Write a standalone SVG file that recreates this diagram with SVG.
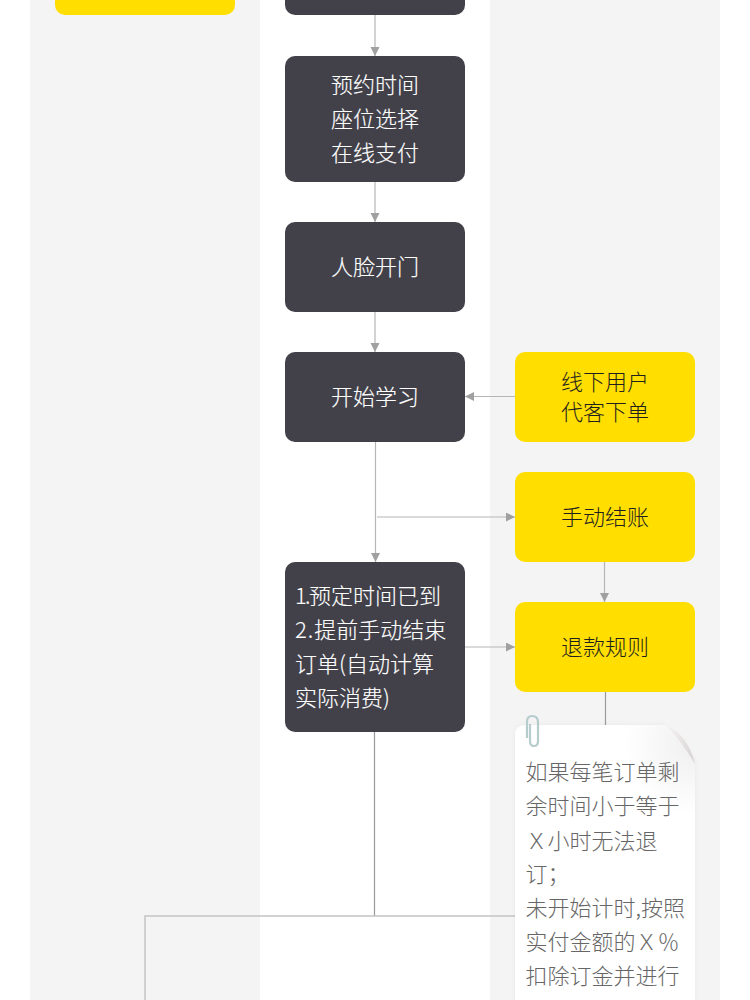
<svg xmlns="http://www.w3.org/2000/svg" width="750" height="1000" viewBox="0 0 750 1000">
<style>
text{font-family:"Noto Sans CJK SC","Liberation Sans",sans-serif;font-size:22px;font-weight:300;text-anchor:middle}
.d{fill:#42414a}.y{fill:#ffde00}
.dt{fill:#fff;stroke:#fff;stroke-width:.15}.yt{fill:#1f1f1f}
.l{text-anchor:start}
.c{fill:none;stroke:#b5b5b5;stroke-width:1.2}
.n{fill:#666;text-anchor:start}
</style>
<defs>
<marker id="a" markerUnits="userSpaceOnUse" markerWidth="10" markerHeight="10" refX="9" refY="4.5" orient="auto"><path d="M0 0L9 4.500L0 9Z" fill="#a0a0a0"/></marker>
<radialGradient id="note" gradientUnits="userSpaceOnUse" cx="695" cy="745" r="70"><stop offset="0" stop-color="#efefef"/><stop offset="1" stop-color="#fff"/></radialGradient>
<linearGradient id="fold" x1="0" y1="0" x2="1" y2="1"><stop offset="0" stop-color="#f6f3f3"/><stop offset="1" stop-color="#d6d0d1"/></linearGradient>
<filter id="sh" x="-10%" y="-10%" width="120%" height="120%"><feGaussianBlur stdDeviation="2.500"/></filter>
</defs>
<rect width="750" height="1000" fill="#fff"/>
<g id="lanes">
<rect x="30" y="0" width="230" height="1000" fill="#f4f4f4"/>
<rect x="490" y="0" width="230" height="1000" fill="#f4f4f4"/>
</g>
<g id="connectors">
<path class="c" d="M375 15V56" marker-end="url(#a)"/>
<path class="c" d="M375 182V222" marker-end="url(#a)"/>
<path class="c" d="M375 312V352" marker-end="url(#a)"/>
<path class="c" d="M515 396.500H465" marker-end="url(#a)"/>
<path class="c" d="M375.500 442V562" marker-end="url(#a)"/>
<path class="c" d="M377 517H515" marker-end="url(#a)"/>
<path class="c" d="M604.500 562V602" marker-end="url(#a)"/>
<path class="c" d="M465 647H515" marker-end="url(#a)"/>
<path class="c" d="M605.500 692V730" style="stroke:#9a9a9a"/>
<path class="c" d="M374.500 732V916" style="stroke:#9a9a9a"/>
<path class="c" d="M145 1000V916H520" style="stroke:#c4c4c4;stroke-width:1.500"/>
</g>
<g id="node-top-left"><rect class="y" x="55" y="-60" width="180" height="75" rx="10"/></g>
<g id="node-top"><rect class="d" x="285" y="-60" width="180" height="75" rx="10"/></g>
<g id="node-booking"><rect class="d" x="285" y="56" width="180" height="126" rx="10"/>
<text class="dt" x="375" y="93">预约时间</text><text class="dt" x="375" y="127">座位选择</text><text class="dt" x="375" y="161">在线支付</text></g>
<g id="node-face"><rect class="d" x="285" y="222" width="180" height="90" rx="10"/>
<text class="dt" x="375" y="275">人脸开门</text></g>
<g id="node-start"><rect class="d" x="285" y="352" width="180" height="90" rx="10"/>
<text class="dt" x="375" y="405">开始学习</text></g>
<g id="node-offline"><rect class="y" x="515" y="352" width="180" height="90" rx="10"/>
<text class="yt" x="605" y="390">线下用户</text><text class="yt" x="605" y="420">代客下单</text></g>
<g id="node-checkout"><rect class="y" x="515" y="472" width="180" height="90" rx="10"/>
<text class="yt" x="605" y="525">手动结账</text></g>
<g id="node-end"><rect class="d" x="285" y="562" width="180" height="170" rx="10"/>
<text class="dt l" x="295" y="604"><tspan letter-spacing="-1.700">1.</tspan>预定时间已到</text><text class="dt l" x="295" y="638"><tspan letter-spacing="1">2.</tspan>提前手动结束</text><text class="dt l" x="295" y="672">订单(自动计算</text><text class="dt l" x="295" y="706">实际消费)</text></g>
<g id="node-refund"><rect class="y" x="515" y="602" width="180" height="90" rx="10"/>
<text class="yt" x="605" y="655">退款规则</text></g>
<g id="note-refund">
<path d="M525 725H665L695 760V1010H515V735Q515 725 525 725Z" fill="#000" opacity=".05" filter="url(#sh)"/>
<path d="M525 725H666Q688 735 695 764V1010H515V735Q515 725 525 725Z" fill="url(#note)"/>
<path d="M666 725Q688 735 695 764Q682 742 666 725Z" fill="url(#fold)"/>
<path d="M527 738V722Q527 716 532 716Q538 716 538 722V741Q538 746 534 746Q530 746 530 741V724" fill="none" stroke="#b6cccd" stroke-width="2.200"/>
<text class="n" x="525.500" y="780">如果每笔订单剩</text><text class="n" x="525.500" y="814">余时间小于等于</text><text class="n" x="525.500" y="849">Ｘ小时无法退</text><text class="n" x="525.500" y="882">订；</text><text class="n" x="525.500" y="916">未开始计时,按照</text><text class="n" x="525.500" y="950">实付金额的Ｘ％</text><text class="n" x="525.500" y="984">扣除订金并进行</text>
</g>
</svg>
